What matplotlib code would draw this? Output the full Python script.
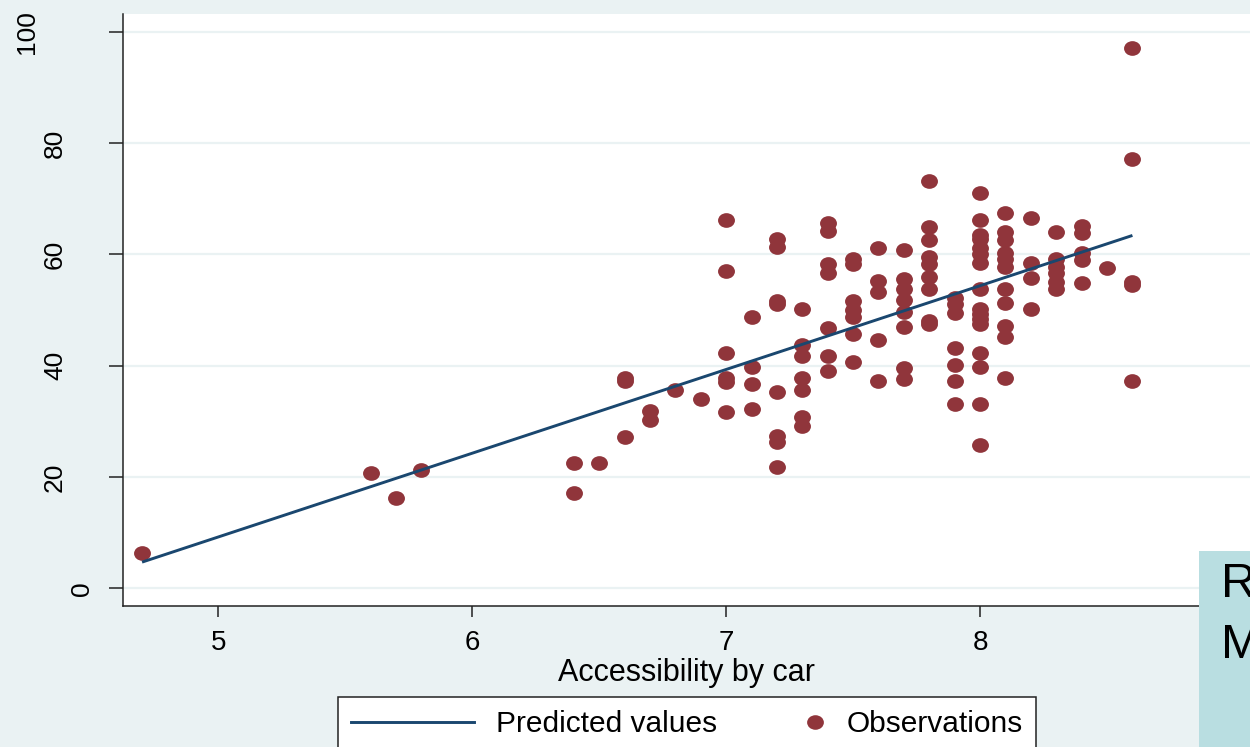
import matplotlib
matplotlib.use("Agg")
import matplotlib.pyplot as plt
from matplotlib.markers import MarkerStyle
from matplotlib.transforms import Affine2D, ScaledTranslation
from matplotlib.lines import Line2D
from matplotlib.patches import Rectangle
from matplotlib.legend_handler import HandlerLine2D

plt.rcParams['font.family'] = ['Liberation Sans', 'DejaVu Sans']

# ---------------- data ----------------
obs_x = ([4.7, 5.6, 5.7, 5.8, 6.4, 6.4, 6.5, 6.6, 6.6, 6.6, 6.7, 6.7, 6.8, 6.9]
         + [7.0] * 6 + [7.1] * 4 + [7.2] * 8 + [7.3] * 7 + [7.4] * 7 + [7.5] * 7
         + [7.6] * 5 + [7.7] * 8 + [7.8] * 9 + [7.9] * 7 + [8.0] * 16 + [8.1] * 11
         + [8.2] * 4 + [8.3] * 6 + [8.4] * 5 + [8.5] * 1 + [8.6] * 5)
obs_y = ([6.3, 20.8, 16.3, 21.2, 22.6, 17.2, 22.6, 37.7, 37.2, 27.2, 31.8, 30.3, 35.6, 34.1]
         + [66.2, 57.1, 42.2, 37.8, 37.1, 31.7]
         + [48.7, 39.7, 36.7, 32.2]
         + [62.7, 61.3, 51.7, 51.0, 35.3, 27.4, 26.3, 21.8]
         + [50.1, 43.7, 41.7, 37.7, 35.6, 30.7, 29.2]
         + [65.6, 64.2, 58.2, 56.6, 46.7, 41.7, 39.1]
         + [59.1, 58.2, 51.6, 50.0, 48.7, 45.7, 40.7]
         + [61.2, 55.2, 53.3, 44.6, 37.2]
         + [60.7, 55.6, 53.7, 51.8, 49.6, 47.0, 39.6, 37.6]
         + [73.1, 65.0, 62.6, 59.6, 58.2, 56.0, 53.7, 48.0, 47.5]
         + [52.2, 51.0, 49.4, 43.2, 40.2, 37.2, 33.2]
         + [71.0, 66.2, 63.5, 62.7, 61.2, 60.0, 58.5, 53.7, 50.1, 49.2, 48.3, 47.4,
            42.3, 39.7, 33.2, 25.7]
         + [67.5, 64.1, 62.6, 60.3, 59.1, 57.8, 53.7, 51.2, 47.2, 45.2, 37.7]
         + [66.6, 58.5, 55.7, 50.1]
         + [64.1, 59.1, 57.8, 56.6, 55.1, 53.7]
         + [65.1, 63.9, 60.3, 58.9, 54.8]
         + [57.6]
         + [97.1, 77.2, 55.1, 54.5, 37.2])

pred_x = [4.7, 8.6]
pred_y = [4.7, 63.4]

x_ticks = [5, 6, 7, 8]
y_ticks = [0, 20, 40, 60, 80, 100]
x_label = "Accessibility by car"
legend_labels = ["Predicted values", "Observations"]
box_lines = ["R", "M"]

# ---------------- style ----------------
BG = "#EAF2F3"
MAROON = "#90353B"
NAVY = "#1A476F"
TEAL = "#B9DEE1"

fig = plt.figure(figsize=(12.5, 7.47), dpi=100, facecolor=BG)
ax = fig.add_axes([0.098, 0.1888, 0.902, 0.7925])
ax.set_facecolor("white")

ax.set_xlim(4.623, 9.063)
ax.set_ylim(-3.18, 103.2)

for yv in y_ticks:
    ax.axhline(yv, color=BG, lw=1.6, zorder=0.5)

ell = MarkerStyle("o", transform=Affine2D().scale(1.15, 1.0))
ax.scatter(obs_x, obs_y, s=112, marker=ell, color=MAROON, linewidths=0, zorder=2)
ax.plot(pred_x, pred_y, color=NAVY, lw=2.1, zorder=3, solid_capstyle="butt")

for s in ["top", "right"]:
    ax.spines[s].set_visible(False)
for s in ["left", "bottom"]:
    ax.spines[s].set_color("#222222")
    ax.spines[s].set_linewidth(1.1)

ax.set_xticks(x_ticks)
ax.set_xticklabels([str(v) for v in x_ticks])
ax.set_yticks(y_ticks)
ax.set_yticklabels([str(v) for v in y_ticks], rotation=90, va="center")
ax.tick_params(axis="x", direction="out", length=8, width=1.1, color="#222222",
               labelsize=20, pad=9)
ax.tick_params(axis="y", direction="out", length=10, width=1.1, color="#222222",
               labelsize=19, pad=8)
ax.set_xlabel(x_label, fontsize=22, labelpad=2)

# the rotated y labels in the reference shift left with their length
for lab in ax.get_yticklabels():
    n = len(lab.get_text())
    dx_px = -3 - 27.5 * (n - 1)
    lab.set_transform(lab.get_transform()
                      + ScaledTranslation(dx_px / 100.0, 0, fig.dpi_scale_trans))


class NarrowHandler(HandlerLine2D):
    def legend_artist(self, legend, orig_handle, fontsize, handlebox):
        handlebox.width = 0.6 * fontsize
        return super().legend_artist(legend, orig_handle, fontsize, handlebox)


h_line = Line2D([], [], color=NAVY, lw=2.1)
h_dot = Line2D([], [], color=MAROON, marker=ell, markersize=10.5, lw=0,
               markeredgewidth=0)
leg = fig.legend([h_line, h_dot], legend_labels, ncol=2,
                 loc="upper left",
                 bbox_to_anchor=(338 / 1250, 1 - 697 / 747, (1036 - 338) / 1250, 0.0),
                 mode="expand",
                 bbox_transform=fig.transFigure,
                 fontsize=21.5, frameon=True, fancybox=False, framealpha=1,
                 edgecolor="#222222", borderpad=0.45, handlelength=4.1,
                 handletextpad=0.75, borderaxespad=0,
                 handler_map={h_dot: NarrowHandler()})
leg.get_frame().set_linewidth(1.1)

fig.add_artist(Rectangle((1199 / 1250, 0), 1 - 1199 / 1250, 1 - 551 / 747,
                         transform=fig.transFigure, facecolor=TEAL,
                         edgecolor="none", zorder=10))
fig.text(1221 / 1250, 1 - 597 / 747, box_lines[0], fontsize=35, color="black",
         zorder=11, va="baseline", ha="left")
fig.text(1221 / 1250, 1 - 658 / 747, box_lines[1], fontsize=35, color="black",
         zorder=11, va="baseline", ha="left")

fig.savefig("out.png", dpi=100, facecolor=BG)
